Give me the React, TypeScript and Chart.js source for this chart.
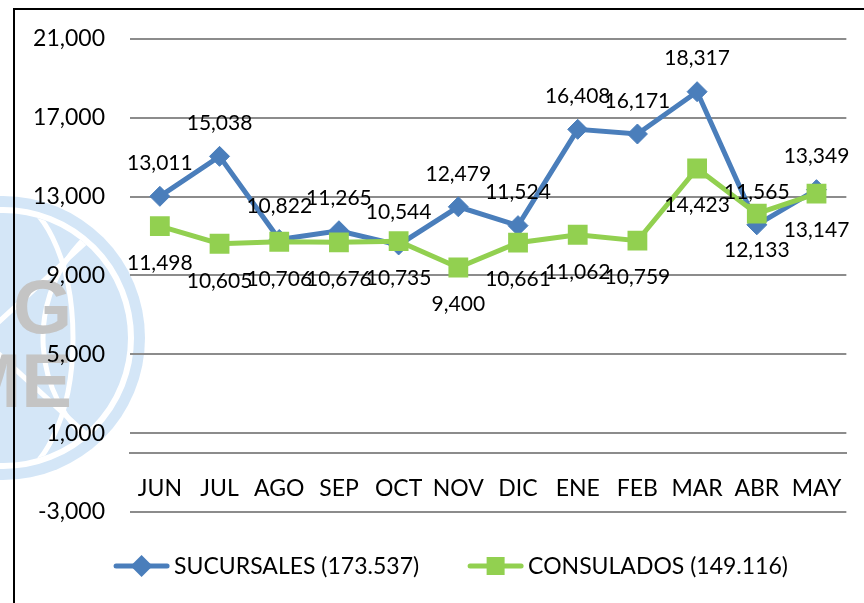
import { useEffect, useRef } from 'react';
import { Chart, registerables } from 'chart.js';

Chart.register(...registerables);

const months = ['JUN', 'JUL', 'AGO', 'SEP', 'OCT', 'NOV', 'DIC', 'ENE', 'FEB', 'MAR', 'ABR', 'MAY'];
const sucursales = [13011, 15038, 10822, 11265, 10544, 12479, 11524, 16408, 16171, 18317, 11565, 13349];
const consulados = [11498, 10605, 10706, 10676, 10735, 9400, 10661, 11062, 10759, 14423, 12133, 13147];
const seriesNames = ['SUCURSALES (173.537)', 'CONSULADOS (149.116)'];
const yMin = -3000;
const yMax = 21000;
const yStep = 4000;

const BLUE = '#4a7ebb';
const GREEN = '#92d050';
const FONT = 'Lato, "Open Sans", sans-serif';

const watermarkPlugin = {
  id: 'watermark',
  beforeDraw(chart: any) {
    const ctx = chart.ctx as CanvasRenderingContext2D;
    const cx = 3, cy = 338, R = 142;
    ctx.save();
    ctx.beginPath();
    ctx.arc(cx, cy, R, 0, Math.PI * 2);
    ctx.fillStyle = '#d4e6f7';
    ctx.fill();
    ctx.strokeStyle = '#ffffff';
    ctx.lineWidth = 6;
    ctx.beginPath();
    ctx.arc(cx, cy, R - 14, 0, Math.PI * 2);
    ctx.stroke();
    ctx.save();
    ctx.beginPath();
    ctx.arc(cx, cy, R - 17, 0, Math.PI * 2);
    ctx.clip();
    ctx.lineWidth = 5;
    ctx.beginPath();
    ctx.ellipse(cx, cy, 70, R, 0, 0, Math.PI * 2);
    ctx.stroke();
    ctx.beginPath();
    ctx.moveTo(cx - R, cy - 110); ctx.lineTo(cx + R, cy + 150);
    ctx.moveTo(cx - R, cy + 110); ctx.lineTo(cx + R, cy - 150);
    ctx.stroke();
    ctx.beginPath();
    ctx.arc(cx + 180, cy, 140, Math.PI * 0.6, Math.PI * 1.4);
    ctx.stroke();
    ctx.restore();
    ctx.fillStyle = '#c4c4c4';
    ctx.font = 'bold 76px "Liberation Sans", sans-serif';
    ctx.textAlign = 'right';
    ctx.textBaseline = 'alphabetic';
    ctx.fillText('G', 72, 333);
    ctx.fillText('ME', 72, 407);
    // frame
    ctx.strokeStyle = '#000000';
    ctx.lineWidth = 2;
    ctx.beginPath();
    ctx.moveTo(14, 603);
    ctx.lineTo(14, 9);
    ctx.lineTo(864, 9);
    ctx.stroke();
    ctx.restore();
  },
};

const dataLabelPlugin = {
  id: 'dataLabels',
  afterDatasetsDraw(chart: any) {
    const ctx = chart.ctx as CanvasRenderingContext2D;
    const offsets = [-33, 37];
    ctx.save();
    ctx.font = `21px ${FONT}`;
    ctx.fillStyle = '#000000';
    ctx.textAlign = 'center';
    ctx.textBaseline = 'middle';
    chart.data.datasets.forEach((ds: any, i: number) => {
      const meta = chart.getDatasetMeta(i);
      meta.data.forEach((pt: any, j: number) => {
        const v = ds.data[j] as number;
        ctx.fillText(v.toLocaleString('en-US'), pt.x, pt.y + offsets[i]);
      });
    });
    ctx.restore();
  },
};

const legendPlugin = {
  id: 'customLegend',
  afterDraw(chart: any) {
    const ctx = chart.ctx as CanvasRenderingContext2D;
    const y = 566;
    const lineLen = 55;
    const textGap = 5;
    const itemGap = 49;
    ctx.save();
    ctx.font = `23px ${FONT}`;
    const widths = seriesNames.map((n) => ctx.measureText(n).width);
    const total = widths.reduce((a, w) => a + lineLen + textGap + w, 0) + itemGap;
    let x = 451 - total / 2;
    seriesNames.forEach((name, i) => {
      const color = i === 0 ? BLUE : GREEN;
      ctx.strokeStyle = color;
      ctx.lineWidth = 5;
      ctx.lineCap = 'round';
      ctx.beginPath();
      ctx.moveTo(x + 2, y);
      ctx.lineTo(x + lineLen - 2, y);
      ctx.stroke();
      const mx = x + lineLen / 2;
      ctx.fillStyle = color;
      ctx.beginPath();
      if (i === 0) {
        ctx.moveTo(mx - 11, y);
        ctx.lineTo(mx, y - 11);
        ctx.lineTo(mx + 11, y);
        ctx.lineTo(mx, y + 11);
        ctx.closePath();
      } else {
        ctx.rect(mx - 9, y - 9, 18, 18);
      }
      ctx.fill();
      ctx.fillStyle = '#000000';
      ctx.textAlign = 'left';
      ctx.textBaseline = 'middle';
      ctx.fillText(name, x + lineLen + textGap, y + 1);
      x += lineLen + textGap + widths[i] + itemGap;
    });
    ctx.restore();
  },
};

export default function App() {
  const canvasRef = useRef<HTMLCanvasElement | null>(null);

  useEffect(() => {
    const canvas = canvasRef.current;
    if (!canvas) return;
    const chart = new Chart(canvas, {
      type: 'line',
      data: {
        labels: months,
        datasets: [
          {
            label: seriesNames[0],
            data: sucursales,
            borderColor: BLUE,
            backgroundColor: BLUE,
            borderWidth: 5,
            tension: 0,
            pointStyle: 'rectRot',
            pointRadius: 10,
            pointBorderWidth: 1,
            pointBackgroundColor: BLUE,
            pointBorderColor: BLUE,
            order: 1,
          },
          {
            label: seriesNames[1],
            data: consulados,
            borderColor: GREEN,
            backgroundColor: GREEN,
            borderWidth: 5,
            tension: 0,
            pointStyle: 'rect',
            pointRadius: 14,
            pointBorderWidth: 0,
            pointBackgroundColor: GREEN,
            pointBorderColor: GREEN,
            order: 0,
          },
        ],
      },
      options: {
        responsive: false,
        animation: false,
        devicePixelRatio: 1,
        locale: 'en-US',
        layout: { padding: { left: 0, top: 38, right: 16, bottom: 91 } },
        plugins: {
          legend: { display: false },
          tooltip: { enabled: false },
        },
        scales: {
          x: {
            type: 'category',
            position: { y: 0 } as any,
            offset: true,
            grid: { display: false, drawTicks: false },
            border: { display: true, color: '#8c8c8c', width: 2 },
            ticks: {
              color: '#000000',
              font: { family: FONT, size: 23 },
              padding: 22,
              maxRotation: 0,
              autoSkip: false,
            },
          },
          y: {
            min: yMin,
            max: yMax,
            afterFit: (scale: any) => {
              scale.width = 130;
            },
            grid: { color: '#8c8c8c', lineWidth: 2, drawTicks: false },
            border: { display: false },
            ticks: {
              stepSize: yStep,
              color: '#000000',
              font: { family: FONT, size: 23 },
              padding: 25,
            },
          },
        },
      },
      plugins: [watermarkPlugin, dataLabelPlugin, legendPlugin],
    });
    return () => chart.destroy();
  }, []);

  return (
    <div style={{ position: 'absolute', left: 0, top: 0, width: 864, height: 603, background: '#ffffff' }}>
      <canvas ref={canvasRef} width={864} height={603} style={{ display: 'block' }} />
    </div>
  );
}
